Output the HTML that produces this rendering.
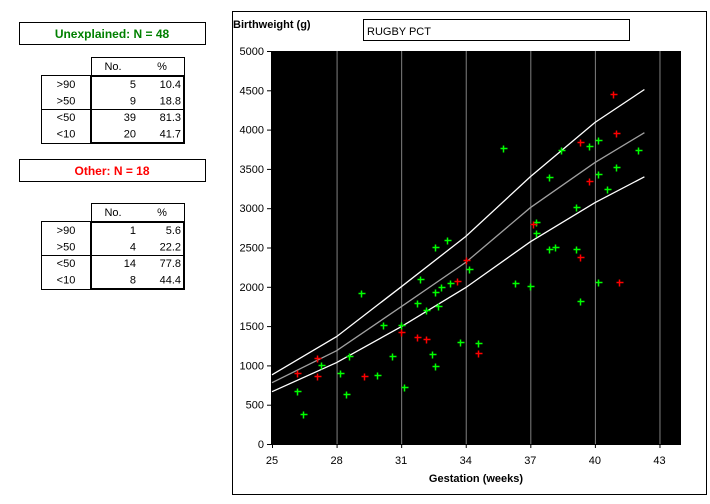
<!DOCTYPE html>
<html><head><meta charset="utf-8"><style>
body{margin:0;background:#fff;}
svg text{font-family:"Liberation Sans",sans-serif;font-size:11px;}
</style></head><body>
<svg id="c" width="710" height="499" xmlns="http://www.w3.org/2000/svg">
<g>
<rect x="19.5" y="22.5" width="186" height="22" fill="#fff" stroke="#000"/>
<text x="112" y="38" text-anchor="middle" fill="#008000" font-weight="bold" style="font-size:12px">Unexplained: N = 48</text>
</g>
<g>
<rect x="19.5" y="159.5" width="186" height="22" fill="#fff" stroke="#000"/>
<text x="112" y="175" text-anchor="middle" fill="#ff0000" font-weight="bold" style="font-size:12px">Other: N = 18</text>
</g>
<g id="tables"></g>
<rect x="232.5" y="11.5" width="474" height="483" fill="#fff" stroke="#000"/>
<text x="233" y="28" font-weight="bold">Birthweight (g)</text>
<rect x="363.5" y="19.5" width="266" height="21" fill="#fff" stroke="#000"/>
<text x="367" y="35">RUGBY PCT</text>
<rect x="272" y="51" width="409" height="393" fill="#000"/>
<g id="grid"></g><g id="axes"></g><g id="curves"></g><g id="pts"></g>
<text x="476" y="482" text-anchor="middle" font-weight="bold">Gestation (weeks)</text>
</svg>
<script>
const xTicks=[25,28,31,34,37,40,43];
const yTicks=[0,500,1000,1500,2000,2500,3000,3500,4000,4500,5000];
const curveWeeks=[25,28,31,34,37,40,42.3];
const upperCentile=[880,1366,2000,2640,3400,4090,4510];
const medianCentile=[780,1187,1747,2310,3006,3580,3960];
const lowerCentile=[665,1035,1493,1990,2573,3070,3400];
const greenWeeks=[26.18,26.44,27.28,28.16,28.44,28.57,29.14,29.88,30.16,30.58,30.99,31.13,31.74,31.88,32.16,32.44,32.58,32.58,32.72,32.58,32.86,33.14,33.28,34.16,33.74,34.58,40.16,39.74,42.02,35.74,38.44,37.88,41.0,40.16,40.58,39.14,37.28,37.28,37.88,38.16,39.14,36.3,37.0,40.16,39.33];
const greenWeights=[674,385,1005,903,640,1123,1921,878,1514,1123,1514,725,1794,2099,1705,1145,1934,2506,1756,996,1997,2595,2048,2226,1298,1285,3868,3791,3740,3766,3740,3397,3524,3435,3244,3015,2824,2684,2481,2506,2481,2048,2010,2061,1819];
const redWeeks=[26.16,27.1,27.1,29.28,31.0,31.74,32.16,33.6,34.02,34.58,40.86,41.0,39.33,39.74,37.14,39.33,41.14];
const redWeights=[903,1098,869,869,1429,1366,1340,2074,2341,1158,4453,3957,3842,3346,2799,2379,2061];
const tableRows=[">90",">50","<50","<10"];
const unexplainedNo=[5,9,39,20];
const unexplainedPct=["10.4","18.8","81.3","41.7"];
const otherNo=[1,4,14,8];
const otherPct=["5.6","22.2","77.8","44.4"];

const NS="http://www.w3.org/2000/svg";
const X=w=>272+(w-25)*409/19;
const Y=v=>444-v*393/5000;
function mk(tag,attrs,parent,txt){const e=document.createElementNS(NS,tag);for(const k in attrs)e.setAttribute(k,attrs[k]);if(txt!==undefined)e.textContent=txt;parent.appendChild(e);return e;}
const grid=document.getElementById('grid'),axes=document.getElementById('axes'),curves=document.getElementById('curves'),pts=document.getElementById('pts'),tables=document.getElementById('tables');

xTicks.forEach(t=>{
  if(t>25){const g=mk('line',{x1:X(t)+.5,x2:X(t)+.5,y1:51,y2:444,stroke:'#808080'},grid);
  
  }
  mk('line',{x1:X(t)+.5,x2:X(t)+.5,y1:444,y2:448,stroke:'#000'},axes);
  const l=mk('text',{x:X(t),y:464,'text-anchor':'middle'},axes,String(t));
  
  
});
mk('line',{x1:272,x2:681,y1:444.5,y2:444.5,stroke:'#000'},axes);
mk('line',{x1:271.5,x2:271.5,y1:51,y2:445,stroke:'#000'},axes);
yTicks.forEach(t=>{
  mk('line',{x1:267,x2:272,y1:Y(t)+.5,y2:Y(t)+.5,stroke:'#000'},axes);
  const l=mk('text',{x:264,y:Y(t)+4,'text-anchor':'end'},axes,String(t));
  
  
});
function curve(vals,color,name){
  const d=curveWeeks.map((w,i)=>(i?'L':'M')+X(w).toFixed(1)+' '+Y(vals[i]).toFixed(1)).join(' ');
  const p=mk('path',{d:d,fill:'none',stroke:color,'stroke-width':1.3},curves);
  
  
}
curve(upperCentile,'#fff','upper-centile-line');
curve(medianCentile,'#a0a0a0','median-centile-line');
curve(lowerCentile,'#fff','lower-centile-line');
function plus(w,v,color,name){
  const x=Math.round(X(w))+.5,y=Math.round(Y(v))+.5;
  const p=mk('path',{d:`M${x-3} ${y}H${x+4}M${x} ${y-3}V${y+4}`,stroke:color,'stroke-width':1.5},pts);
  
  
}
greenWeeks.forEach((w,i)=>plus(w,greenWeights[i],'#00ff00','unexplained-point'));
redWeeks.forEach((w,i)=>plus(w,redWeights[i],'#ff0000','other-point'));

function table(top,bodyTop,nos,pcts,name){
  const g=mk('g',{},tables);
  
  
  mk('rect',{x:91.5,y:top+.5,width:93,height:18,fill:'#fff',stroke:'#000'},g);
  mk('text',{x:113,y:top+13,'text-anchor':'middle'},g,'No.');
  mk('text',{x:162,y:top+13,'text-anchor':'middle'},g,'%');
  mk('rect',{x:41.5,y:bodyTop+.5,width:143,height:68,fill:'#fff',stroke:'#000'},g);
  mk('rect',{x:91,y:bodyTop+1,width:93,height:67,fill:'none',stroke:'#000','stroke-width':2},g);
  mk('line',{x1:41,x2:184,y1:bodyTop+34.5,y2:bodyTop+34.5,stroke:'#000'},g);
  tableRows.forEach((r,i)=>{
    const y=bodyTop+13+i*16.5;
    mk('text',{x:66,y:y,'text-anchor':'middle'},g,r);
    mk('text',{x:136,y:y,'text-anchor':'end'},g,String(nos[i]));
    mk('text',{x:181,y:y,'text-anchor':'end'},g,pcts[i]);
  });
}
table(57,75,unexplainedNo,unexplainedPct,'unexplained-table');
table(203,221,otherNo,otherPct,'other-table');
</script>
</body></html>
